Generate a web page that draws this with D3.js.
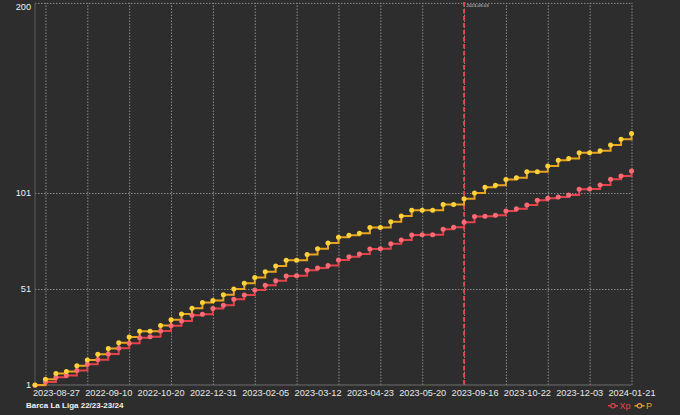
<!DOCTYPE html>
<html>
<head>
<meta charset="utf-8">
<script src="https://cdn.jsdelivr.net/npm/d3@7"></script>
<style>
  html, body { margin: 0; padding: 0; background: #2d2d2d; }
  svg { display: block; }
  text { font-family: "Liberation Sans", Arial, sans-serif; }
</style>
</head>
<body>
<svg id="chart" width="680" height="415"></svg>
<script>
// ---- data ----
const title = "Barca La Liga 22/23-23/24";
const seriesNames = ["Xp", "P"];
const pValues = [1,4,7,8,11,14,17,20,23,26,29,29,32,35,38,41,
  44,45,48,51,54,57,60,63,66,66,69,72,75,78,79,80,
  83,83,86,89,92,92,92,95,95,98,101,104,105,
  108,109,112,112,115,118,119,122,122,123,126,129,132];
const xpValues = [0.9,2.6,5.0,5.9,8.6,11.8,14.2,17.1,20.1,22.7,25.6,26.1,29.1,31.9,34.3,37.3,
  37.8,40.9,42.5,45.6,47.9,50.5,52.9,55.3,57.8,57.9,60.7,61.9,63.3,66.1,67.8,69.2,
  71.8,71.9,74.6,76.5,79.1,79.2,79.3,82.1,83.1,85.7,88.7,88.9,89.4,
  91.6,92.8,94.8,97.2,98.2,98.9,100.0,102.9,103.1,105.2,108.1,109.8,112.5];
const xTickIndex = [2,7,12,17,22,27,32,37,42,47,52,57];
const xTickLabels = ["2023-08-27","2022-09-10","2022-10-20","2022-12-31","2023-02-05","2023-03-12",
  "2023-04-23","2023-05-20","2023-09-16","2023-10-22","2023-12-03","2024-01-21"];
const xGridIndex = [1,5,9,13,17,21,25,29,33,37,41,45,49,53,57];
const yTicks = [1, 51, 101, 200];
const markerIndex = 41;
const markerLabel = "2023-09-03";

// ---- layout ----
const svg = d3.select("#chart");
const W = 680, H = 415;
const pLeft = 35, pRight = 631.5, pTop = 2.9, pBottom = 385;
const colors = { Xp: { line: "#e5424b", pt: "#ff6b75" }, P: { line: "#eaa51e", pt: "#ffd23c" } };

const x = d3.scaleLinear().domain([0, pValues.length - 1]).range([pLeft, pRight]);
const y = d3.scaleLinear().domain([1, 200]).range([pBottom, pTop]);

svg.append("rect").attr("width", W).attr("height", H).attr("fill", "#2d2d2d");

// grid
const gx = svg.append("g").attr("transform", `translate(0,${pBottom})`)
  .call(d3.axisBottom(x).tickValues(xGridIndex).tickSize(-(pBottom - pTop)).tickFormat(""));
gx.select(".domain").remove();
gx.selectAll("line").attr("stroke", "#8c8c8c").attr("stroke-width", 1).attr("stroke-dasharray", "1.5,1.5");

const gy = svg.append("g").attr("transform", `translate(${pLeft},0)`)
  .call(d3.axisLeft(y).tickValues(yTicks.slice(1)).tickSize(-(pRight - pLeft)).tickFormat(""));
gy.select(".domain").remove();
gy.selectAll("line").attr("stroke", "#8c8c8c").attr("stroke-width", 1).attr("stroke-dasharray", "1.5,1.5");

// axis lines
svg.append("line").attr("x1", pLeft).attr("x2", pRight).attr("y1", pBottom).attr("y2", pBottom)
  .attr("stroke", "#6e6e6e").attr("stroke-width", 1);
svg.append("line").attr("x1", pLeft).attr("x2", pLeft).attr("y1", pTop).attr("y2", pBottom)
  .attr("stroke", "#5a5a5a").attr("stroke-width", 1);

// x tick labels
const xa = svg.append("g").attr("transform", `translate(0,${pBottom})`)
  .call(d3.axisBottom(x).tickValues(xTickIndex).tickSize(0).tickPadding(4)
    .tickFormat((d, i) => xTickLabels[i]));
xa.select(".domain").remove();
xa.selectAll("text").attr("fill", "#e8e8e8").attr("font-size", "9.2px")
  .attr("font-family", "'Liberation Sans', Arial, sans-serif");

// y tick labels
const ya = svg.append("g").attr("transform", `translate(${pLeft},0)`)
  .call(d3.axisLeft(y).tickValues(yTicks).tickSize(0).tickPadding(4));
ya.select(".domain").remove();
ya.selectAll("text").attr("fill", "#f0f0f0").attr("font-size", "9.2px")
  .attr("font-family", "'Liberation Sans', Arial, sans-serif");
ya.selectAll(".tick").filter(d => d === 200).select("text").attr("dy", "0.75em");

// marker line
svg.append("line").attr("x1", x(markerIndex)).attr("x2", x(markerIndex))
  .attr("y1", pTop - 1).attr("y2", pBottom)
  .attr("stroke", "#e0464e").attr("stroke-width", 2).attr("stroke-dasharray", "4.5,2.5");
svg.append("text").attr("x", x(markerIndex) + 2.5).attr("y", 7.2)
  .attr("fill", "#d8d8d8").attr("font-size", "4.3px").text(markerLabel);

// series
const series = [
  { name: "Xp", values: xpValues },
  { name: "P", values: pValues }
];
const lineGen = d3.line().x((d, i) => x(i)).y(d => y(d)).curve(d3.curveStepAfter);
series.forEach(s => {
  svg.append("path").datum(s.values).attr("d", lineGen)
    .attr("fill", "none").attr("stroke", colors[s.name].line).attr("stroke-width", 2);
});
series.forEach(s => {
  svg.append("g").selectAll("circle").data(s.values).join("circle")
    .attr("cx", (d, i) => x(i)).attr("cy", d => y(d)).attr("r", 2.5)
    .attr("fill", colors[s.name].pt);
});

// title
svg.append("text").attr("x", 26).attr("y", 408.3).attr("fill", "#f2f2f2")
  .attr("font-size", "8px").attr("font-weight", "bold").text(title);

// legend
const legendItems = [
  { name: "Xp", x0: 608 },
  { name: "P", x0: 634.5 }
];
legendItems.forEach(it => {
  const c = colors[it.name];
  const g = svg.append("g");
  g.append("line").attr("x1", it.x0).attr("x2", it.x0 + 10).attr("y1", 405.8).attr("y2", 405.8)
    .attr("stroke", c.line).attr("stroke-width", 1.4);
  g.append("circle").attr("cx", it.x0 + 5).attr("cy", 405.8).attr("r", 2.2)
    .attr("fill", "#2d2d2d").attr("stroke", c.line).attr("stroke-width", 1.1);
  g.append("text").attr("x", it.x0 + 11.5).attr("y", 409).attr("fill", c.line)
    .attr("font-size", "9px").text(it.name);
});
</script>
</body>
</html>
